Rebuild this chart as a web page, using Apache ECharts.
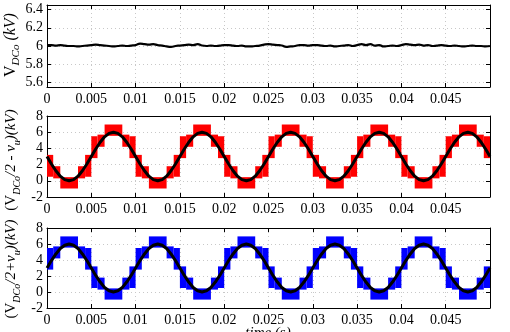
<!DOCTYPE html>
<html><head><meta charset="utf-8">
<script src="https://cdn.jsdelivr.net/npm/echarts@6/dist/echarts.min.js"></script>
<style>html,body{margin:0;padding:0;background:#fff}#c{width:510px;height:332px}</style>
</head><body><div id="c"></div>
<script>
// ---- data ----
const xTicks = [0, 0.005, 0.01, 0.015, 0.02, 0.025, 0.03, 0.035, 0.04, 0.045];
const topTicks = [5.6, 5.8, 6, 6.2, 6.4];
const armTicks = [-2, 0, 2, 4, 6, 8];
const sampleStep = 0.0005; // s, spacing of the samples below
const vdcValues = [6.01,6.01,6.005,6.01,6.005,6.00,6.00,5.995,6.00,6.005,6.01,
 6.015,6.01,6.005,6.00,5.995,6.00,6.005,6.00,6.005,6.01,
 6.025,6.02,6.015,6.02,6.01,6.005,5.995,5.99,6.00,6.005,
 6.01,6.015,6.01,6.02,6.005,6.00,6.005,6.00,6.005,6.01,
 6.01,6.005,6.00,6.005,5.995,5.995,6.00,6.005,6.015,6.02,
 6.015,6.01,6.005,5.99,5.995,6.00,6.01,6.01,6.005,6.01,
 6.01,6.005,6.00,6.005,5.995,6.00,6.005,6.01,6.00,6.01,
 6.02,6.01,6.02,6.005,6.01,5.995,6.00,6.005,6.00,6.01,
 6.02,6.015,6.01,6.015,6.005,6.01,6.00,6.005,6.01,6.005,
 6.00,6.005,6.00,5.995,6.00,6.005,6.00,6.00,5.995,6.00];
const upperRef = [3.00,2.07,1.24,0.57,0.15,0.00,0.15,0.57,1.24,2.07,3.00,3.93,4.76,5.43,5.85,6.00,5.85,5.43,4.76,3.93,
 3.00,2.07,1.24,0.57,0.15,0.00,0.15,0.57,1.24,2.07,3.00,3.93,4.76,5.43,5.85,6.00,5.85,5.43,4.76,3.93,
 3.00,2.07,1.24,0.57,0.15,0.00,0.15,0.57,1.24,2.07,3.00,3.93,4.76,5.43,5.85,6.00,5.85,5.43,4.76,3.93,
 3.00,2.07,1.24,0.57,0.15,0.00,0.15,0.57,1.24,2.07,3.00,3.93,4.76,5.43,5.85,6.00,5.85,5.43,4.76,3.93,
 3.00,2.07,1.24,0.57,0.15,0.00,0.15,0.57,1.24,2.07,3.00,3.93,4.76,5.43,5.85,6.00,5.85,5.43,4.76,3.93,3.00];
const lowerRef = [3.00,3.93,4.76,5.43,5.85,6.00,5.85,5.43,4.76,3.93,3.00,2.07,1.24,0.57,0.15,0.00,0.15,0.57,1.24,2.07,
 3.00,3.93,4.76,5.43,5.85,6.00,5.85,5.43,4.76,3.93,3.00,2.07,1.24,0.57,0.15,0.00,0.15,0.57,1.24,2.07,
 3.00,3.93,4.76,5.43,5.85,6.00,5.85,5.43,4.76,3.93,3.00,2.07,1.24,0.57,0.15,0.00,0.15,0.57,1.24,2.07,
 3.00,3.93,4.76,5.43,5.85,6.00,5.85,5.43,4.76,3.93,3.00,2.07,1.24,0.57,0.15,0.00,0.15,0.57,1.24,2.07,
 3.00,3.93,4.76,5.43,5.85,6.00,5.85,5.43,4.76,3.93,3.00,2.07,1.24,0.57,0.15,0.00,0.15,0.57,1.24,2.07,3.00];
// staircase blocks of one period: [start ms, end ms, low kV, high kV]
const upperSteps = [[0,0.7,0.5,3.2],[0.7,1.5,0.3,1.8],[1.5,3.5,-0.95,0.45],[3.5,4.3,0.3,1.8],[4.3,5.0,0.5,3.2],
 [5.0,5.7,2.8,5.5],[5.7,6.5,4.2,5.7],[6.5,8.5,5.55,6.95],[8.5,9.3,4.2,5.7],[9.3,10,2.8,5.5]];
const lowerSteps = [[0,0.7,2.8,5.5],[0.7,1.5,4.2,5.7],[1.5,3.5,5.55,6.95],[3.5,4.3,4.2,5.7],[4.3,5.0,2.8,5.5],
 [5.0,5.7,0.5,3.2],[5.7,6.5,0.3,1.8],[6.5,8.5,-0.95,0.45],[8.5,9.3,0.3,1.8],[9.3,10,0.5,3.2]];
const periodStartsMs = [0, 10, 20, 30, 40];

// ---- build ----
function pts(vals){ return vals.map((v,i)=>[+(i*sampleStep).toFixed(5), v]); }
function blocks(steps){ const out=[]; periodStartsMs.forEach(p=>steps.forEach(s=>out.push([(p+s[0])/1000,(p+s[1])/1000,s[2],s[3]]))); return out; }

const F = 'Liberation Serif';
const grids = [
  {left:47, right:20, top:5, height:82},
  {left:47, right:20, top:116, height:81},
  {left:47, right:20, top:228, height:80}
];
const xAxes = [], yAxes = [];
grids.forEach((g,i)=>{
  xAxes.push({type:'value', gridIndex:i, min:0, max:0.05, interval:0.005, position:'bottom',
    axisLine:{onZero:false, lineStyle:{color:'#000', width:1}},
    axisTick:{inside:true, length:4, lineStyle:{color:'#000'}},
    axisLabel:{margin:5, color:'#000', fontFamily:F, fontSize:14, customValues:xTicks, formatter:v=>String(+v.toFixed(3))},
    splitLine:{show:true, lineStyle:{color:'#c8c8c8', type:[1,3], width:1}}});
  xAxes.push({type:'value', gridIndex:i, min:0, max:0.05, interval:0.005, position:'top',
    axisLine:{onZero:false, lineStyle:{color:'#000', width:1}},
    axisTick:{inside:true, length:4, lineStyle:{color:'#000'}},
    axisLabel:{show:false}, splitLine:{show:false}});
  const ticks = i===0 ? topTicks : armTicks;
  const yb = i===0 ? {min:5.55, max:6.45} : {min:-2, max:8};
  yAxes.push(Object.assign({type:'value', gridIndex:i, position:'left',
    axisLine:{show:true, onZero:false, lineStyle:{color:'#000', width:1}},
    axisTick:{show:true, inside:true, length:4, customValues:ticks, lineStyle:{color:'#000'}},
    axisLabel:{margin:4, color:'#000', fontFamily:F, fontSize:14, customValues:ticks},
    splitLine:{show:true, lineStyle:{color:'#c8c8c8', type:[1,3], width:1}}}, yb));
  yAxes.push(Object.assign({type:'value', gridIndex:i, position:'right',
    axisLine:{show:true, onZero:false, lineStyle:{color:'#000', width:1}},
    axisTick:{show:true, inside:true, length:4, customValues:ticks, lineStyle:{color:'#000'}},
    axisLabel:{show:false}, splitLine:{show:false}}, yb));
});

function rectSeries(data, xi, yi, color){
  return {type:'custom', xAxisIndex:xi, yAxisIndex:yi, clip:true, silent:true,
    encode:{x:[0,1], y:[2,3]}, data:data,
    renderItem:function(params, api){
      const a = api.coord([api.value(0), api.value(3)]);
      const b = api.coord([api.value(1), api.value(2)]);
      return {type:'rect', shape:{x:a[0], y:a[1], width:b[0]-a[0], height:b[1]-a[1]}, style:{fill:color}};
    }};
}

const lab = (text, x, y, fs) => ({type:'text', x:x, y:y, rotation:Math.PI/2, z:100,
  style:{text:text, align:'center', verticalAlign:'middle', fill:'#000', fontFamily:F,
    rich:{
      n:{fontSize:fs, fontFamily:F, lineHeight:22, verticalAlign:'middle'},
      i:{fontSize:fs, fontFamily:F, fontStyle:'italic', lineHeight:22, verticalAlign:'middle'},
      s:{fontSize:fs-5, fontFamily:F, fontStyle:'italic', lineHeight:22, verticalAlign:'bottom', padding:[7,0,0,0]}
    }}});

const option = {
  animation:false,
  grid:grids,
  xAxis:xAxes,
  yAxis:yAxes,
  graphic:[
    lab('{n|V}{s|DCo}{i| (kV)}', 11, 45, 16),
    lab('{n|(V}{s|DCo}{i|/2 - v}{s|u}{i|)(kV)}', 11, 160, 15),
    lab('{n|(V}{s|DCo}{i|/2+v}{s|u}{i|)(kV)}', 11, 269, 15),
    {type:'text', x:268, y:326, z:100, style:{text:'time (s)', align:'center', verticalAlign:'top', fontFamily:F, fontSize:15, fontStyle:'italic', fill:'#000'}}
  ],
  series:[
    {type:'line', xAxisIndex:0, yAxisIndex:0, data:pts(vdcValues), showSymbol:false, smooth:true, lineStyle:{color:'#000', width:2.2}},
    rectSeries(blocks(upperSteps), 2, 2, '#ff0000'),
    {type:'line', xAxisIndex:2, yAxisIndex:2, data:pts(upperRef), showSymbol:false, lineStyle:{color:'#000', width:3}},
    rectSeries(blocks(lowerSteps), 4, 4, '#0000ff'),
    {type:'line', xAxisIndex:4, yAxisIndex:4, data:pts(lowerRef), showSymbol:false, lineStyle:{color:'#000', width:3}}
  ]
};
echarts.init(document.getElementById('c')).setOption(option);
</script></body></html>
